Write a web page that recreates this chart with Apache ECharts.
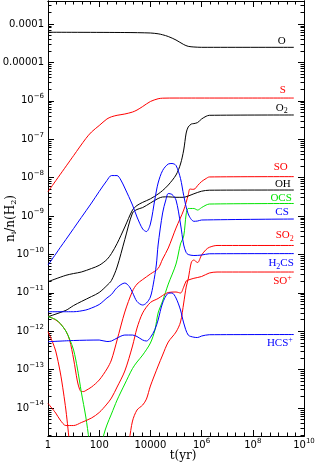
<!DOCTYPE html>
<html><head><meta charset="utf-8">
<script src="https://cdn.jsdelivr.net/npm/echarts@6/dist/echarts.min.js"></script>
<style>html,body{margin:0;padding:0;background:#fff}#c{width:315px;height:464px}</style>
</head><body><div id="c"></div>
<script>
// ---------- data (t in yr, n_i/n(H2)) ----------
const O_t = [1, 1e3, 1e4, 2e4, 3e4, 5e4, 1e5, 2e5, 3e5, 5e5, 1e6, 4e9];
const O_n = [6.1e-5, 6.0e-5, 5.83e-5, 5.56e-5, 5.24e-5, 4.72e-5, 3.83e-5, 2.92e-5, 2.62e-5, 2.52e-5, 2.47e-5, 2.47e-5];

const S_t = [1, 10, 30, 50, 100, 200, 300, 500, 1e3, 2e3, 3e3, 5e3, 1e4, 2e4, 3e4, 1e5, 4e9];
const S_n = [4.3e-9, 3.74e-8, 1.04e-7, 1.54e-7, 2.27e-7, 3.36e-7, 3.83e-7, 4.19e-7, 4.53e-7, 5.1e-7, 5.75e-7, 7.1e-7, 9.6e-7, 1.13e-6, 1.17e-6, 1.18e-6, 1.18e-6];

const O2_t = [1, 5, 10, 20, 50, 100, 200, 300, 500, 1e3, 2e3, 3e3, 5e3, 1e4, 2e4, 3e4, 5e4, 1e5, 1.5e5, 2e5, 2.5e5, 3e5, 4e5, 5e5, 7e5, 1e6, 1.5e6, 2e6, 4e9];
const O2_n = [1.95e-11, 2.86e-11, 3.18e-11, 3.48e-11, 4.3e-11, 5.2e-11, 7.36e-11, 1.05e-10, 1.92e-10, 5.17e-10, 1.43e-9, 1.88e-9, 2.27e-9, 2.8e-9, 3.74e-9, 4.61e-9, 6.41e-9, 1.17e-8, 2.26e-8, 5.23e-8, 1.45e-7, 2.08e-7, 2.49e-7, 2.55e-7, 2.72e-7, 3.36e-7, 3.95e-7, 4.19e-7, 4.27e-7];

const OH_t = [1, 5, 10, 20, 50, 100, 200, 300, 500, 1e3, 2e3, 3e3, 5e3, 1e4, 2e4, 3e4, 5e4, 1e5, 2e5, 3e5, 5e5, 1e6, 2e6, 4e9];
const OH_n = [2.39e-12, 3.5e-12, 4.67e-12, 5.93e-12, 8.0e-12, 1.02e-11, 1.55e-11, 2.09e-11, 4.7e-11, 2.44e-10, 1.2e-9, 1.48e-9, 1.66e-9, 2.18e-9, 2.86e-9, 3.13e-9, 3.16e-9, 3.07e-9, 3.07e-9, 3.32e-9, 3.79e-9, 4.43e-9, 4.7e-9, 4.75e-9];

const SO_t = [1, 2, 3, 5, 7, 10, 14, 17, 20, 25, 30, 50, 100, 200, 300, 500, 1e3, 2e3, 3e3, 5e3, 1e4, 2e4, 3e4, 5e4, 1e5, 2e5, 3e5, 3.5e5, 4.5e5, 5.5e5, 7e5, 1e6, 1.5e6, 2e6, 4e9];
const SO_n = [2.49e-12, 1.96e-12, 1.59e-12, 1.01e-12, 5.9e-13, 1.89e-13, 5.05e-14, 3.13e-14, 2.69e-14, 2.69e-14, 2.86e-14, 3.52e-14, 5.36e-14, 1.04e-13, 1.78e-13, 5.9e-13, 3.16e-12, 1.11e-11, 1.69e-11, 2.22e-11, 3.09e-11, 4.3e-11, 7.59e-11, 1.47e-10, 4.86e-10, 1.43e-9, 3.52e-9, 5.05e-9, 4.95e-9, 5.1e-9, 6.22e-9, 7.9e-9, 9.47e-9, 1.04e-8, 1.06e-8];

const OCS_t = [1, 2, 3, 5, 7, 10, 14, 20, 30, 40, 60, 100, 120, 150, 200, 300, 500, 1e3, 2e3, 3e3, 5e3, 1e4, 1.5e4, 2e4, 3e4, 5e4, 1e5, 1.5e5, 2e5, 2.5e5, 3e5, 5e5, 7e5, 1e6, 1.5e6, 2e6, 4e9];
const OCS_n = [2.39e-12, 2.02e-12, 1.59e-12, 1.01e-12, 6.2e-13, 3.24e-13, 1.1e-13, 2.61e-14, 5.84e-15, 1.47e-15, 1.33e-16, 2.43e-16, 9.08e-16, 1.98e-15, 3.61e-15, 6.98e-15, 1.61e-14, 4.22e-14, 1.07e-13, 1.58e-13, 2.4e-13, 4.93e-13, 1.07e-12, 2.98e-12, 6.11e-12, 1.69e-11, 5.62e-11, 1.87e-10, 3.01e-10, 1.13e-9, 1.57e-9, 1.57e-9, 1.43e-9, 1.66e-9, 1.93e-9, 2.05e-9, 2.12e-9];

const CS_t = [1, 2, 3, 5, 10, 20, 50, 100, 200, 300, 500, 700, 1e3, 2e3, 3e3, 5e3, 7e3, 1e4, 1.5e4, 2e4, 3e4, 5e4, 7e4, 1e5, 1.5e5, 2e5, 3e5, 5e5, 7e5, 1e6, 4e9];
const CS_n = [5.3e-11, 1.02e-10, 1.51e-10, 2.44e-10, 4.72e-10, 9.14e-10, 2.18e-9, 4.35e-9, 8.4e-9, 1.13e-8, 1.13e-8, 8.65e-9, 5.36e-9, 1.93e-9, 9.42e-10, 4.58e-10, 3.94e-10, 6.19e-10, 2.77e-9, 7.23e-9, 1.53e-8, 2.26e-8, 2.33e-8, 2.07e-8, 9.47e-9, 3.42e-9, 1.13e-9, 7.28e-10, 7.41e-10, 7.87e-10, 8.35e-10];

const SO2_t = [1, 1.5, 2, 3, 4, 5, 6, 7, 10, 30, 100, 300, 700, 1e3, 1.5e3, 2e3, 3e3, 5e3, 7e3, 1e4, 2e4, 3e4, 5e4, 1e5, 1.5e5, 2e5, 2.5e5, 3e5, 4e5, 5e5, 6e5, 7e5, 1e6, 1.5e6, 2e6, 4e6, 4e9];
const SO2_n = [9.7e-13, 5.24e-13, 3.05e-13, 8.65e-14, 2.61e-14, 8.88e-15, 3.01e-15, 1.09e-15, 1.33e-16, 6.65e-18, 2e-18, 3.6e-18, 7.3e-17, 3.28e-16, 1.47e-15, 4.58e-15, 8.88e-15, 1.2e-14, 1.71e-14, 3.74e-14, 1.24e-13, 2.4e-13, 5.24e-13, 9.53e-13, 1.74e-12, 5.43e-12, 1.42e-11, 2.29e-11, 6.34e-11, 7.15e-11, 6.53e-11, 6.15e-11, 9.64e-11, 1.34e-10, 1.53e-10, 1.71e-10, 1.71e-10];

const H2CS_t = [1, 10, 30, 50, 100, 200, 300, 500, 1e3, 1.5e3, 2e3, 3e3, 5e3, 7e3, 1e4, 1.3e4, 1.7e4, 2e4, 3e4, 4e4, 5e4, 7e4, 1e5, 1.5e5, 2e5, 2.5e5, 3e5, 5e5, 1e6, 2e6, 4e9];
const H2CS_n = [3.22e-12, 3.22e-12, 3.57e-12, 4.02e-12, 4.96e-12, 7.32e-12, 9.03e-12, 1.37e-11, 1.8e-11, 1.46e-11, 1.02e-11, 5.93e-12, 4.81e-12, 5.43e-12, 7.78e-12, 1.69e-11, 5.3e-11, 1.76e-10, 1.2e-9, 2.61e-9, 3.85e-9, 3.63e-9, 2.61e-9, 6.19e-10, 1.76e-10, 1.12e-10, 9.94e-11, 9.36e-11, 9.64e-11, 1.04e-10, 1.05e-10];

const SOp_t = [1, 2, 3, 5, 10, 20, 50, 100, 200, 300, 500, 1e3, 2e3, 3e3, 5e3, 1e4, 2e4, 3e4, 5e4, 1e5, 1.5e5, 2e5, 2.5e5, 3e5, 5e5, 1e6, 2e6, 4e6, 4e9];
const SOp_n = [1.32e-14, 7.41e-15, 4.87e-15, 3.5e-15, 3.5e-15, 4.19e-15, 5.5e-15, 7.64e-15, 1.27e-14, 1.82e-14, 3.52e-14, 9.2e-14, 4.12e-13, 1.21e-12, 3.0e-12, 5.59e-12, 7.11e-12, 8.51e-12, 1.02e-11, 1.05e-11, 9.88e-12, 1.42e-11, 2.03e-11, 2.15e-11, 2.39e-11, 2.66e-11, 3.28e-11, 3.48e-11, 3.48e-11];

const HCSp_t = [1, 10, 100, 200, 300, 500, 1e3, 2e3, 3e3, 5e3, 7e3, 1e4, 1.5e4, 2e4, 3e4, 5e4, 7e4, 1e5, 1.5e5, 2e5, 3e5, 5e5, 7e5, 1e6, 2e6, 4e9];
const HCSp_n = [5.33e-13, 5.73e-13, 5.9e-13, 5.4e-13, 5.56e-13, 6.65e-13, 7.96e-13, 7.96e-13, 7.28e-13, 5.9e-13, 5.56e-13, 6.86e-13, 1.11e-12, 1.96e-12, 5.43e-12, 9.7e-12, 9.88e-12, 7.32e-12, 3.57e-12, 1.64e-12, 7.96e-13, 6.98e-13, 6.86e-13, 7.5e-13, 8.11e-13, 8.2e-13];

// tick labels
const xTickValues = [1, 1e2, 1e4, 1e6, 1e8, 1e10];
const xTickLabels = ['1', '100', '10000', '10^6', '10^8', '10^10'];
const yTickValues = [1e-14, 1e-13, 1e-12, 1e-11, 1e-10, 1e-9, 1e-8, 1e-7, 1e-6, 1e-5, 1e-4];
const yTickLabels = ['10^−14', '10^−13', '10^−12', '10^−11', '10^−10', '10^−9', '10^−8', '10^−7', '10^−6', '0.00001', '0.0001'];

const X_MIN = 1, X_MAX = 1e10, Y_MIN = 1.87e-15, Y_MAX = 3.97e-4;

// ---------- styles ----------
const FNUM = 'DejaVu Sans';
const FTXT = 'Liberation Serif';
const RED = '#ff0000', BLUE = '#0000ff', GREEN = '#00e400', BLACK = '#000000';

const species = [
  {t: O_t, n: O_n, label: 'O', color: BLACK, off: [-8, -6]},
  {t: S_t, n: S_n, label: 'S', color: RED, off: [-8, -8]},
  {t: O2_t, n: O2_n, label: 'O{sub|2}', color: BLACK, off: [-6, -7]},
  {t: SO_t, n: SO_n, label: 'SO', color: RED, off: [-6, -10]},
  {t: OH_t, n: OH_n, label: 'OH', color: BLACK, off: [-3, -6]},
  {t: OCS_t, n: OCS_n, label: 'OCS', color: GREEN, off: [-2, -5]},
  {t: CS_t, n: CS_n, label: 'CS', color: BLUE, off: [-5, -7]},
  {t: SO2_t, n: SO2_n, label: 'SO{sub|2}', color: RED, off: [0, -10]},
  {t: H2CS_t, n: H2CS_n, label: 'H{sub|2}CS', color: BLUE, off: [0, 10]},
  {t: SOp_t, n: SOp_n, label: 'SO{sup|+}', color: RED, off: [-2, 9]},
  {t: HCSp_t, n: HCSp_n, label: 'HCS{sup|+}', color: BLUE, off: [-1, 9]}
];

function richLabel(s) {
  const i = s.indexOf('^');
  if (i < 0) return '{b|' + s + '}';
  return '{b|' + s.slice(0, i) + '}{s|' + s.slice(i + 1) + '}';
}
function lookup(vals, labs, v) {
  let best = 0, bd = Infinity;
  vals.forEach((u, i) => { const d = Math.abs(Math.log10(u) - Math.log10(v)); if (d < bd) { bd = d; best = i; } });
  return richLabel(labs[best]);
}
const numRich = {
  b: {fontFamily: FNUM, fontSize: 10, height: 17, color: '#000', verticalAlign: 'middle'},
  s: {fontFamily: FNUM, fontSize: 7, padding: [0, 0, 9, 0], color: '#000', verticalAlign: 'middle'}
};

// minor ticks
const yMinor = [];
for (let e = -16; e <= -3; e++) for (let k = 2; k <= 9; k++) {
  const v = k * Math.pow(10, e);
  if (v >= Y_MIN && v <= Y_MAX) yMinor.push(v);
}
const xMinor = [];
for (let k = 0; k <= 30; k++) if (k % 6 !== 0) xMinor.push(Math.pow(10, k / 3));

const axLine = {show: true, lineStyle: {color: '#000', width: 1}};
function xAx(pos, vals, len, labels) {
  return {
    type: 'log', logBase: 10, min: X_MIN, max: X_MAX, position: pos, gridIndex: 0,
    axisLine: axLine, splitLine: {show: false},
    axisTick: {show: true, inside: true, length: len, customValues: vals, lineStyle: {color: '#000', width: 1}},
    axisLabel: labels ? {show: true, customValues: xTickValues, margin: 1,
      formatter: v => lookup(xTickValues, xTickLabels, v), rich: numRich} : {show: false}
  };
}
function yAx(pos, vals, len, labels) {
  return {
    type: 'log', logBase: 10, min: Y_MIN, max: Y_MAX, position: pos, gridIndex: 0,
    axisLine: axLine, splitLine: {show: false},
    axisTick: {show: true, inside: true, length: len, customValues: vals, lineStyle: {color: '#000', width: 1}},
    axisLabel: labels ? {show: true, customValues: yTickValues, margin: 4,
      formatter: v => lookup(yTickValues, yTickLabels, v), rich: numRich} : {show: false}
  };
}

const xAxes = [xAx('bottom', xTickValues, 6, true), xAx('bottom', xMinor, 3.5, false),
               xAx('top', xTickValues, 6, false), xAx('top', xMinor, 3.5, false)];
xAxes[0].name = 't(yr)';
xAxes[0].nameLocation = 'middle';
xAxes[0].nameGap = 14;
xAxes[0].nameMoveOverlap = false;
xAxes[0].nameTextStyle = {fontFamily: 'DejaVu Serif', fontSize: 12, color: '#000', padding: [0, 0, 0, 14]};

const yAxes = [yAx('left', yTickValues, 6, true), yAx('left', yMinor, 3.5, false),
               yAx('right', yTickValues, 6, false), yAx('right', yMinor, 3.5, false)];
yAxes[0].name = 'n{sub|i}/n(H{sub|2})';
yAxes[0].nameLocation = 'middle';
yAxes[0].nameRotate = 90;
yAxes[0].nameGap = 30;
yAxes[0].nameMoveOverlap = false;
yAxes[0].nameTextStyle = {fontFamily: 'DejaVu Serif', fontSize: 12, color: '#000',
  rich: {sub: {fontFamily: 'DejaVu Serif', fontSize: 8, padding: [6, 0, 0, 0], verticalAlign: 'middle', color: '#000'}}};

const series = species.map(sp => ({
  type: 'line',
  data: sp.t.map((v, i) => [v, sp.n[i]]),
  xAxisIndex: 0, yAxisIndex: 0,
  showSymbol: false, symbol: 'none', smooth: 0.3, clip: true, silent: true,
  lineStyle: {color: sp.color, width: 1},
  endLabel: {
    show: true, formatter: () => sp.label, align: 'right', verticalAlign: 'middle',
    distance: 0, offset: sp.off, color: sp.color, fontFamily: FTXT, fontSize: 11,
    rich: {
      sub: {fontFamily: FTXT, fontSize: 8, padding: [6, 0, 0, 0], verticalAlign: 'middle', color: sp.color},
      sup: {fontFamily: FTXT, fontSize: 8, padding: [0, 0, 7, 0], verticalAlign: 'middle', color: sp.color}
    }
  }
}));

const chart = echarts.init(document.getElementById('c'), null, {renderer: 'canvas', width: 315, height: 464});
chart.setOption({
  animation: false,
  backgroundColor: '#fff',
  grid: {left: 48, right: 11, top: 1, bottom: 28, containLabel: false, outerBoundsMode: 'none'},
  xAxis: xAxes,
  yAxis: yAxes,
  series: series
});
</script>
</body></html>
